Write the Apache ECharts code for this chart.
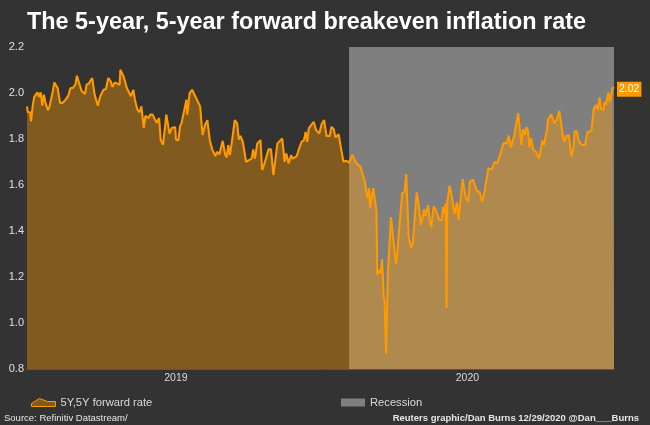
<!DOCTYPE html>
<html>
<head>
<meta charset="utf-8">
<style>html,body{margin:0;padding:0;background:#333}#chart{width:650px;height:425px}</style>
<script src="https://cdn.jsdelivr.net/npm/echarts@6/dist/echarts.min.js"></script>
</head>
<body>
<div id="chart"></div>
<script>
// days since 1 Jan 2019 at the line's turning points
var days = [0,1,4,5,7,9,11,13,15,17,19,21,23,26,28,30,32,34,38,41,44,48,51,54,57,60,62,64,68,72,74,77,79,81,84,88,91,95,98,101,104,106,109,111,115,116,120,124,126,129,130,132,134,137,140,142,145,147,151,153,156,158,161,164,166,169,173,177,180,184,185,188,190,192,195,196,198,199,202,205,208,211,215,218,221,224,227,230,232,234,236,239,243,246,248,250,252,255,258,261,263,265,268,270,272,279,281,283,286,290,292,295,297,300,303,306,311,313,317,320,322,325,328,330,335,338,341,344,346,348,350,352,356,359,363,366,369,372,376,378,381,383,387,390,393,397,400,404,409,414,419,423,425,426,428,430,434,435,437,439,441,443,444,446,448,452,455,458,459,463,466,469,471,474,477,479,481,484,487,489,492,493,495,498,500,502,505,508,512,515,517,519,520,521,522,525,528,529,531,534,536,541,545,548,550,554,559,562,565,568,570,573,577,581,584,587,589,592,596,598,601,603,605,607,610,614,616,618,620,622,624,626,629,632,636,640,642,646,647,651,655,658,661,665,667,670,673,676,679,680,683,685,687,689,693,696,701,704,707,709,711,713,716,717,719,722,724,727,729];
var rates = [1.942,1.916,1.916,1.877,1.942,1.983,1.978,2.003,1.983,2.003,1.945,1.993,1.957,1.925,1.942,1.945,2.007,2.046,2.022,1.957,1.957,1.971,1.986,2.022,2.022,2.036,2.075,2.051,2.007,1.996,2.036,2.041,2.055,2.065,1.993,1.945,1.986,2.014,2.017,2.065,2.051,2.026,2.046,2.046,2.036,2.101,2.072,2.022,2.022,1.986,1.978,2.014,1.971,1.928,1.916,1.942,1.848,1.901,1.891,1.906,1.906,1.913,1.870,1.891,1.797,1.775,1.906,1.823,1.848,1.852,1.797,1.794,1.855,1.870,1.920,1.928,1.971,1.906,2.000,2.014,1.993,1.971,1.942,1.817,1.860,1.882,1.795,1.755,1.759,1.726,1.744,1.734,1.792,1.734,1.720,1.773,1.730,1.802,1.882,1.868,1.798,1.813,1.788,1.788,1.701,1.715,1.755,1.715,1.781,1.795,1.665,1.694,1.701,1.755,1.755,1.643,1.781,1.788,1.802,1.701,1.737,1.694,1.730,1.715,1.726,1.759,1.788,1.795,1.831,1.788,1.846,1.846,1.875,1.839,1.824,1.865,1.882,1.813,1.813,1.853,1.842,1.807,1.821,1.759,1.701,1.705,1.697,1.731,1.695,1.680,1.622,1.542,1.586,1.499,1.499,1.586,1.484,1.209,1.231,1.216,1.277,1.115,1.100,0.866,1.202,1.460,1.361,1.257,1.274,1.441,1.564,1.571,1.647,1.376,1.325,1.347,1.434,1.568,1.499,1.426,1.470,1.495,1.466,1.513,1.448,1.416,1.506,1.489,1.448,1.448,1.506,1.477,1.521,1.064,1.528,1.597,1.542,1.542,1.474,1.524,1.448,1.626,1.542,1.528,1.615,1.622,1.571,1.571,1.528,1.567,1.561,1.672,1.668,1.701,1.694,1.726,1.730,1.784,1.781,1.814,1.764,1.767,1.813,1.817,1.912,1.774,1.842,1.817,1.851,1.839,1.764,1.803,1.752,1.745,1.716,1.793,1.774,1.846,1.883,1.907,1.868,1.886,1.923,1.825,1.788,1.813,1.817,1.723,1.767,1.833,1.833,1.793,1.801,1.774,1.774,1.830,1.835,1.933,1.948,1.926,1.981,1.929,1.926,1.958,1.948,2.001,1.962,2.020,2.025];
var yearDays = [185, 547];
var yearNames = ['2019', '2020'];
var recessionStart = 400;
var lastDay = 729;

var chart = echarts.init(document.getElementById('chart'));
var font = '"Liberation Sans", Arial, sans-serif';

chart.setOption({
    animation: false,
    backgroundColor: '#333333',
    title: [
        {
            text: 'The 5-year, 5-year forward breakeven inflation rate',
            left: 22, top: 6,
            textStyle: {color: '#ffffff', fontFamily: font, fontSize: 23.4, fontWeight: 'bold'}
        },
        {
            text: 'Source: Refinitiv Datastream/',
            left: -1, top: 408,
            textStyle: {color: '#e6e6e6', fontFamily: font, fontSize: 9.5, fontWeight: 'normal'}
        },
        {
            text: 'Reuters graphic/Dan Burns 12/29/2020 @Dan___Burns',
            right: 6, top: 408,
            textStyle: {color: '#e6e6e6', fontFamily: font, fontSize: 9.5, fontWeight: 'bold'}
        }
    ],
    grid: {left: 27, right: 36, top: 47, bottom: 56},
    legend: [
        {
            data: [{name: '5Y,5Y forward rate', icon: 'path://M0,7 L8,2 L16,5 L24,5 L24,10 L0,10 Z'}],
            left: 26, top: 392,
            itemWidth: 24, itemHeight: 9, itemGap: 3,
            itemStyle: {color: '#7f5a20', borderColor: '#ff9900', borderWidth: 1},
            textStyle: {color: '#d9d9d9', fontFamily: font, fontSize: 11.2}
        },
        {
            data: [{name: 'Recession', icon: 'rect'}],
            left: 336, top: 392,
            itemWidth: 24, itemHeight: 8, itemGap: 4,
            textStyle: {color: '#d9d9d9', fontFamily: font, fontSize: 11.2}
        }
    ],
    xAxis: {
        type: 'value',
        min: 0,
        max: lastDay,
        splitLine: {show: false},
        axisTick: {show: false},
        axisLine: {lineStyle: {color: '#555555'}},
        axisLabel: {
            customValues: yearDays,
            color: '#d9d9d9',
            fontFamily: font,
            fontSize: 10.5,
            margin: 4,
            formatter: function (v) {
                return yearNames[yearDays.indexOf(v)];
            }
        }
    },
    yAxis: {
        type: 'value',
        min: 0.8,
        max: 2.2,
        interval: 0.2,
        splitLine: {show: false},
        axisTick: {show: false},
        axisLine: {show: false},
        axisLabel: {
            color: '#e0e0e0',
            fontFamily: font,
            fontSize: 11,
            margin: 3,
            formatter: function (v) {
                return v.toFixed(1);
            }
        }
    },
    series: [
        {
            name: 'Recession',
            type: 'line',
            z: 1,
            data: [],
            itemStyle: {color: '#7f7f7f'},
            markArea: {
                silent: true,
                itemStyle: {color: '#7f7f7f'},
                data: [[{xAxis: recessionStart}, {xAxis: lastDay}]]
            }
        },
        {
            name: '5Y,5Y forward rate',
            type: 'line',
            z: 2,
            symbol: 'none',
            data: days.map(function (d, i) {
                return [d, rates[i]];
            }),
            itemStyle: {color: '#ff9900'},
            lineStyle: {color: '#ff9900', width: 2.1},
            areaStyle: {color: '#ff9c00', opacity: 0.38},
            endLabel: {
                show: true,
                distance: 3,
                offset: [0, 2],
                formatter: function (p) {
                    return p.value[1].toFixed(2);
                },
                color: '#ffffff',
                fontFamily: font,
                fontSize: 10.5,
                backgroundColor: '#ff9900',
                padding: [2, 2]
            }
        }
    ]
});
</script>
</body>
</html>
